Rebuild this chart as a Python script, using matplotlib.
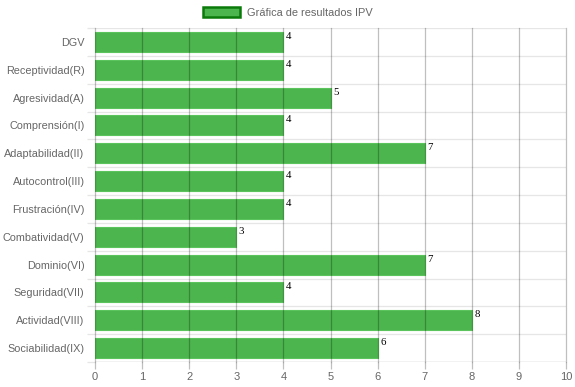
import matplotlib
matplotlib.use("Agg")
import matplotlib.pyplot as plt
from matplotlib.patches import Patch

categories = ["DGV", "Receptividad(R)", "Agresividad(A)", "Comprensión(I)",
              "Adaptabilidad(II)", "Autocontrol(III)", "Frustración(IV)",
              "Combatividad(V)", "Dominio(VI)", "Seguridad(VII)",
              "Actividad(VIII)", "Sociabilidad(IX)"]
values = [4, 4, 5, 4, 7, 4, 4, 3, 7, 4, 8, 6]
legend_label = "Gráfica de resultados IPV"

W, H = 575, 387
fig = plt.figure(figsize=(W / 100, H / 100), dpi=100)
left, right, top, bottom = 95, 566, 28, 362
ax = fig.add_axes([left / W, 1 - bottom / H, (right - left) / W, (bottom - top) / H])

n = len(categories)
ys = list(range(n))
ax.barh(ys, values, height=0.72, color="#4cb54d", edgecolor="#5cc45c", linewidth=0.8, zorder=2)
ax.set_ylim(n - 0.5, -0.5)
ax.set_xlim(0, 10)

# vertical grid lines (on top, translucent)
for x in range(0, 11):
    ax.plot([x, x], [n - 0.5, -0.5], color=(0, 0, 0, 0.25), lw=0.9, zorder=3, clip_on=False)
# horizontal grid at category boundaries
for k in range(n + 1):
    ax.axhline(k - 0.5, color="#e6e6e6", lw=0.9, zorder=1)
ax.axhline(n - 0.5, color="#d0d0d0", lw=1.0, zorder=1)

for s in ax.spines.values():
    s.set_visible(False)

ax.set_yticks(ys)
ax.set_yticklabels(categories, fontsize=7.8, color="#666666", fontfamily="Liberation Sans")
ax.set_yticks([k - 0.5 for k in range(n + 1)], minor=True)
ax.tick_params(axis="y", which="major", length=0, pad=7.5)
ax.tick_params(axis="y", which="minor", length=6, color="#e6e6e6", width=0.9)
ax.set_xticks(range(0, 11))
ax.set_xticklabels([str(i) for i in range(0, 11)], fontsize=8.0, color="#666666", fontfamily="Liberation Sans")
ax.tick_params(axis="x", length=5, color=(0, 0, 0, 0.25), width=0.9, pad=2.5)

for y, v in zip(ys, values):
    ax.annotate(str(v), (v, y - 0.36), xytext=(1.8, 0), textcoords="offset points",
                ha="left", va="top", fontsize=7.8, fontfamily="Liberation Serif", color="black", zorder=4)

handle = Patch(facecolor="#4cb54d", edgecolor="#0a7a0a", linewidth=1.8)
fig.legend([handle], [legend_label], loc="center", bbox_to_anchor=(0.5, 1 - 12.5 / H),
           frameon=False, prop={"family": "Liberation Sans", "size": 7.9},
           handlelength=3.4, handleheight=0.95, handletextpad=0.6, labelcolor="#666666")

fig.savefig("out.png", dpi=100)
